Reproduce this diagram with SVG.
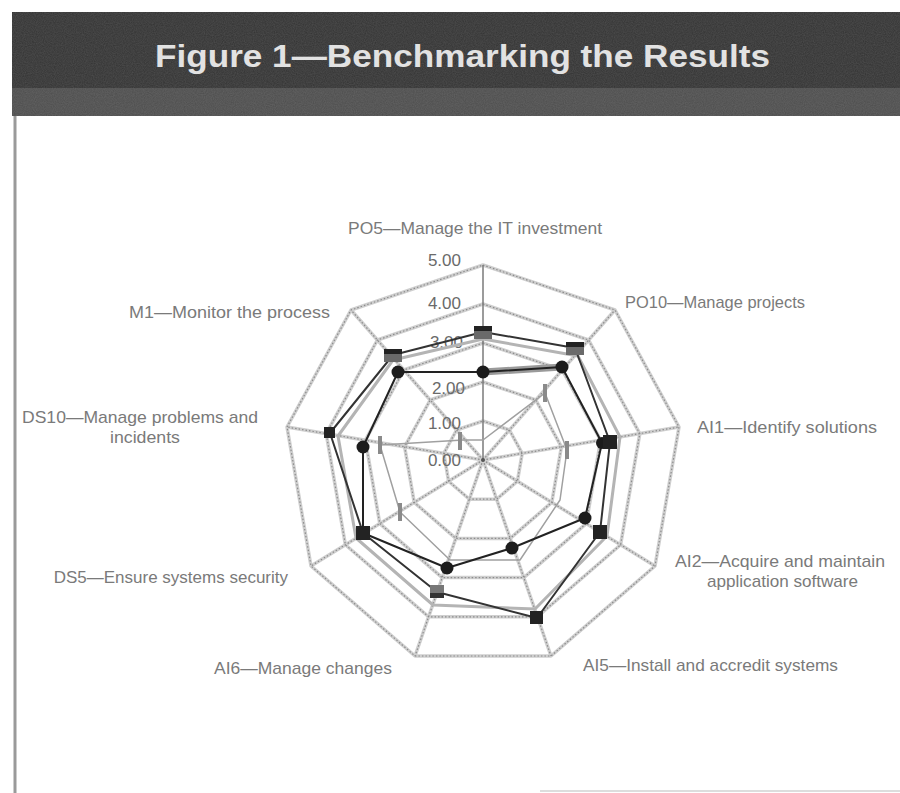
<svg xmlns="http://www.w3.org/2000/svg" width="900" height="793" viewBox="0 0 900 793">
<style>
.lbl{font-family:"Liberation Sans",Arial,sans-serif;font-size:17px;fill:#7a7a7a}
.val{font-family:"Liberation Sans",Arial,sans-serif;font-size:17px;fill:#6a6a6a;text-anchor:end}
.gb{fill:none;stroke:#cfcfcf;stroke-width:3.5;stroke-linejoin:round}
.gh{fill:none;stroke:#8c8c8c;stroke-width:1.2;stroke-dasharray:1.5 2;stroke-linejoin:round}
.sA{fill:none;stroke:#222;stroke-width:2;stroke-linejoin:round}
.sB{fill:none;stroke:#333;stroke-width:2;stroke-linejoin:round}
.sC{fill:none;stroke:#a0a0a0;stroke-width:1.5;stroke-linejoin:round}
.sD{fill:none;stroke:#b4b4b4;stroke-width:3;stroke-linejoin:round}
.dot{fill:#1c1c1c}
.sq{fill:#232323}
.bar{fill:#8a8a8a}
</style>
<defs>
<filter id="noise" x="0" y="0" width="100%" height="100%">
<feTurbulence type="fractalNoise" baseFrequency="0.9" numOctaves="2" seed="3" result="n"/>
<feColorMatrix in="n" type="matrix" values="0 0 0 0 0.5  0 0 0 0 0.5  0 0 0 0 0.5  0 0 0 0.9 0"/>
</filter>
</defs>
<rect x="0" y="0" width="900" height="793" fill="#ffffff"/>
<g id="banner">
<rect x="12" y="12" width="888" height="104" fill="#333333"/>
<rect x="12" y="88" width="888" height="28" fill="#4d4d4d"/>
<rect x="12" y="12" width="888" height="104" filter="url(#noise)" opacity="0.22"/>
<text x="155" y="67" font-family="'Liberation Sans',Arial,sans-serif" font-size="32" font-weight="bold" fill="#e2e2e2" textLength="615" lengthAdjust="spacingAndGlyphs">Figure 1—Benchmarking the Results</text>
</g>
<g id="frame">
<line x1="15" y1="116" x2="15" y2="793" stroke="#9a9a9a" stroke-width="3"/>
<line x1="540" y1="791" x2="900" y2="791" stroke="#dddddd" stroke-width="2"/>
</g>
<g id="grid">
<polygon class="gb" points="483,421 509.4,430 522.2,453.4 517.4,481.2 496.6,499.2 469.4,499.2 448.6,481.2 443.8,453.4 456.6,430"/>
<polygon class="gb" points="483,382 535.8,400 561.4,446.8 551.8,502.4 510.2,538.4 455.8,538.4 414.2,502.4 404.6,446.8 430.2,400"/>
<polygon class="gb" points="483,343 562.2,370 600.6,440.2 586.2,523.6 523.8,577.6 442.2,577.6 379.8,523.6 365.4,440.2 403.8,370"/>
<polygon class="gb" points="483,304 588.6,340 639.8,433.6 620.6,544.8 537.4,616.8 428.6,616.8 345.4,544.8 326.2,433.6 377.4,340"/>
<polygon class="gb" points="483,265 615,310 679,427 655,566 551,656 415,656 311,566 287,427 351,310"/>
<path class="gb" d="M483,460L615,310M483,460L679,427M483,460L655,566M483,460L551,656M483,460L415,656M483,460L311,566M483,460L287,427M483,460L351,310"/>
<polygon class="gh" points="483,421 509.4,430 522.2,453.4 517.4,481.2 496.6,499.2 469.4,499.2 448.6,481.2 443.8,453.4 456.6,430"/>
<polygon class="gh" points="483,382 535.8,400 561.4,446.8 551.8,502.4 510.2,538.4 455.8,538.4 414.2,502.4 404.6,446.8 430.2,400"/>
<polygon class="gh" points="483,343 562.2,370 600.6,440.2 586.2,523.6 523.8,577.6 442.2,577.6 379.8,523.6 365.4,440.2 403.8,370"/>
<polygon class="gh" points="483,304 588.6,340 639.8,433.6 620.6,544.8 537.4,616.8 428.6,616.8 345.4,544.8 326.2,433.6 377.4,340"/>
<polygon class="gh" points="483,265 615,310 679,427 655,566 551,656 415,656 311,566 287,427 351,310"/>
<path class="gh" d="M483,460L615,310M483,460L679,427M483,460L655,566M483,460L551,656M483,460L415,656M483,460L311,566M483,460L287,427M483,460L351,310"/>
<line x1="483" y1="265" x2="483" y2="460" stroke="#7a7a7a" stroke-width="1.5"/>
<circle cx="483" cy="460" r="2" fill="#555"/>
</g>
<g id="scale">
<text class="val" x="461" y="266">5.00</text>
<text class="val" x="461" y="309">4.00</text>
<text class="val" x="463" y="348">3.00</text>
<text class="val" x="465" y="394">2.00</text>
<text class="val" x="461" y="429">1.00</text>
<text class="val" x="461" y="466">0.00</text>
</g>
<g id="connectors">
<polygon class="sD" points="483,339 578,356 620,437 607,536 535,609 433,605 356,538 338,436 393,360"/>
<polygon class="sC" points="483,440 545,393 567,450 560,500 520,560 450,560 400,512 380,445 463,440"/>
<line x1="483" y1="372" x2="562" y2="367" stroke="#9a9a9a" stroke-width="7"/>
<polygon class="sB" points="483,332 575,348 610,442 600,532 537,618 437,592 363,533 330,433 393,355"/>
<polygon class="sA" points="483,372 562,367 602,443 585,518 512,548 447,568 363,533 363,447 398,372"/>
</g>
<g id="markers">
<rect class="bar" x="543" y="384" width="4" height="18"/>
<rect class="bar" x="565" y="441" width="4" height="18"/>
<rect class="bar" x="398" y="503" width="4" height="18"/>
<rect class="bar" x="378" y="436" width="4" height="18"/>
<rect class="bar" x="458" y="432" width="4" height="18"/>
<circle class="dot" cx="602" cy="443" r="6"/>
<rect fill="#6a6a6a" x="474" y="326" width="18" height="13"/>
<rect fill="#222" x="474" y="326" width="18" height="5"/>
<rect fill="#6a6a6a" x="566" y="342" width="18" height="13"/>
<rect fill="#222" x="566" y="342" width="18" height="5"/>
<rect fill="#6a6a6a" x="384" y="349" width="18" height="13"/>
<rect fill="#222" x="384" y="349" width="18" height="5"/>
<rect class="sq" x="603" y="435" width="14" height="14"/>
<rect class="sq" x="593" y="525" width="14" height="14"/>
<rect class="sq" x="530" y="611" width="13" height="13"/>
<rect fill="#777" x="430" y="585" width="14" height="13"/>
<rect fill="#333" x="430" y="593" width="14" height="5"/>
<rect class="sq" x="356" y="526" width="14" height="14"/>
<rect class="sq" x="324" y="427" width="11" height="11"/>
<circle class="dot" cx="483" cy="372" r="6.5"/>
<circle class="dot" cx="562" cy="367" r="6.5"/>
<circle class="dot" cx="585" cy="518" r="6.5"/>
<circle class="dot" cx="512" cy="548" r="6.5"/>
<circle class="dot" cx="447" cy="568" r="6.5"/>
<circle class="dot" cx="363" cy="447" r="6.5"/>
<circle class="dot" cx="398" cy="372" r="6.5"/>
</g>
<g id="labels">
<text class="lbl" x="348" y="234" textLength="254" lengthAdjust="spacingAndGlyphs">PO5—Manage the IT investment</text>
<text class="lbl" x="625" y="308" textLength="180" lengthAdjust="spacingAndGlyphs">PO10—Manage projects</text>
<text class="lbl" x="697" y="433" textLength="180" lengthAdjust="spacingAndGlyphs">AI1—Identify solutions</text>
<text class="lbl" x="675" y="567" textLength="210" lengthAdjust="spacingAndGlyphs">AI2—Acquire and maintain</text>
<text class="lbl" x="707" y="587" textLength="151" lengthAdjust="spacingAndGlyphs">application software</text>
<text class="lbl" x="583" y="671" textLength="255" lengthAdjust="spacingAndGlyphs">AI5—Install and accredit systems</text>
<text class="lbl" x="214" y="674" textLength="178" lengthAdjust="spacingAndGlyphs">AI6—Manage changes</text>
<text class="lbl" x="288" y="583" text-anchor="end">DS5—Ensure systems security</text>
<text class="lbl" x="22" y="423" textLength="236" lengthAdjust="spacingAndGlyphs">DS10—Manage problems and</text>
<text class="lbl" x="110" y="443" textLength="70" lengthAdjust="spacingAndGlyphs">incidents</text>
<text class="lbl" x="129" y="318" textLength="201" lengthAdjust="spacingAndGlyphs">M1—Monitor the process</text>
</g>
</svg>
